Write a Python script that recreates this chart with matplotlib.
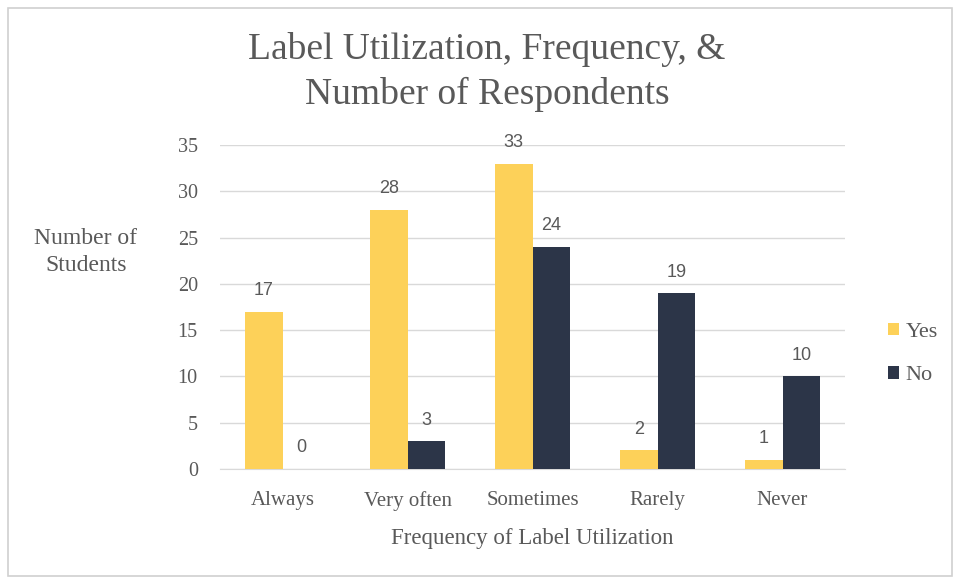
import matplotlib
matplotlib.use("Agg")
import matplotlib.pyplot as plt
from matplotlib.patches import Rectangle
import numpy as np

categories = ["Always", "Very often", "Sometimes", "Rarely", "Never"]
yes_values = [17, 28, 33, 2, 1]
no_values = [0, 3, 24, 19, 10]
y_ticks = [0, 5, 10, 15, 20, 25, 30, 35]

YELLOW = "#FDD159"
NAVY = "#2C3548"
TEXT = "#595959"
SERIF = ["Liberation Serif", "DejaVu Serif"]
SANS = ["Liberation Sans", "DejaVu Sans"]

fig = plt.figure(figsize=(9.6, 5.84), dpi=100)
fig.patch.set_facecolor("white")

# outer chart-area frame
fig.add_artist(Rectangle((8 / 960, 8 / 584), 944 / 960, 568 / 584,
                         transform=fig.transFigure, fill=False,
                         edgecolor="#D0D0D0", linewidth=1.2))

ax = fig.add_axes([220 / 960, 1 - 469 / 584, 625 / 960, (469 - 145) / 584])

x = np.arange(len(categories))
w = 0.3
b1 = ax.bar(x - w / 2, yes_values, w, color=YELLOW, label="Yes", zorder=3)
b2 = ax.bar(x + w / 2, no_values, w, color=NAVY, label="No", zorder=3)

for bars, vals in ((b1, yes_values), (b2, no_values)):
    for rect, v in zip(bars, vals):
        ax.annotate(str(v), (rect.get_x() + rect.get_width() / 2, v),
                    xytext=(0, 9), textcoords="offset points",
                    ha="center", va="bottom", fontsize=13,
                    color=TEXT, family=SANS)

ax.set_xlim(-0.5, len(categories) - 0.5)
ax.set_ylim(0, 35)
ax.set_yticks(y_ticks)
ax.set_xticks(x)
ax.set_xticklabels(categories, family=SERIF, fontsize=15, color=TEXT)
for lbl in ax.get_yticklabels():
    lbl.set_family(SERIF)
    lbl.set_fontsize(14.5)
    lbl.set_color(TEXT)
ax.tick_params(axis="y", length=0, pad=16)
ax.tick_params(axis="x", length=0, pad=16)

ax.grid(axis="y", color="#D9D9D9", linewidth=1, zorder=0)
for side in ("top", "right", "left"):
    ax.spines[side].set_visible(False)
ax.spines["bottom"].set_color("#D9D9D9")

ax.set_xlabel("Frequency of Label Utilization", family=SERIF, fontsize=16.5,
              color=TEXT, labelpad=12)
fig.text(86 / 960, 1 - 252 / 584, "Number of\nStudents", family=SERIF,
         fontsize=17, color=TEXT, ha="center", va="center", linespacing=1.35)

fig.text(487 / 960, 1 - 72 / 584, "Label Utilization, Frequency, &\nNumber of Respondents",
         family=SERIF, fontsize=27, color=TEXT, ha="center", va="center",
         linespacing=1.35)

leg = fig.legend(handles=[b1, b2], labels=["Yes", "No"],
                 loc="center left", bbox_to_anchor=(868 / 960, 1 - 354 / 584),
                 frameon=False, prop={"family": SERIF, "size": 16},
                 handlelength=0.5, handleheight=0.5, handletextpad=0.3,
                 labelspacing=1.1)
for t in leg.get_texts():
    t.set_color(TEXT)

fig.savefig("out.png", dpi=100, facecolor="white")
